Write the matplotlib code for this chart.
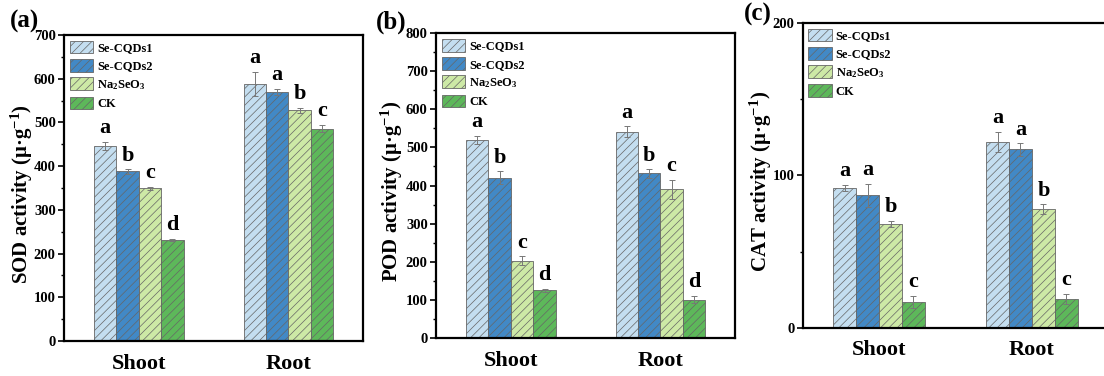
import numpy as np
import matplotlib
matplotlib.use('Agg')
import matplotlib.pyplot as plt
from matplotlib.ticker import MultipleLocator

plt.rcParams['font.family'] = 'Liberation Serif'
plt.rcParams['font.weight'] = 'bold'
plt.rcParams['mathtext.fontset'] = 'custom'
plt.rcParams['mathtext.rm'] = 'Liberation Serif:bold'
plt.rcParams['mathtext.it'] = 'Liberation Serif:bold'
plt.rcParams['mathtext.bf'] = 'Liberation Serif:bold'
plt.rcParams['hatch.color'] = '#555555'
plt.rcParams['hatch.linewidth'] = 0.5

groups = ['Shoot', 'Root']
treatments = ['Se-CQDs1', 'Se-CQDs2', 'Na$_2$SeO$_3$', 'CK']
colors = ['#c4def0', '#4289c6', '#cde9a6', '#5db85a']

sod = [[446, 388, 349, 231], [588, 570, 528, 486]]
sod_err = [[10, 5, 4, 2], [27, 7, 6, 9]]
sod_letters = [['a', 'b', 'c', 'd'], ['a', 'a', 'b', 'c']]

pod = [[519, 420, 203, 125], [541, 432, 390, 101]]
pod_err = [[11, 17, 11, 4], [14, 11, 25, 9]]
pod_letters = [['a', 'b', 'c', 'd'], ['a', 'b', 'c', 'd']]

cat = [[92, 87, 68, 17], [122, 117, 78, 19]]
cat_err = [[2, 7.5, 2, 4], [6.5, 4, 3, 3.5]]
cat_letters = [['a', 'a', 'b', 'c'], ['a', 'a', 'b', 'c']]

panels = [
    # tag, values, errors, letters, ylabel, ymax, rect, tag pos, ylabel x
    ('(a)', sod, sod_err, sod_letters, 'SOD', 700, [0.058, 0.093, 0.271, 0.814], (0.022, 0.912), -0.097),
    ('(b)', pod, pod_err, pod_letters, 'POD', 800, [0.395, 0.101, 0.271, 0.811], (0.354, 0.910), -0.104),
    ('(c)', cat, cat_err, cat_letters, 'CAT', 200, [0.727, 0.128, 0.277, 0.811], (0.686, 0.932), -0.092),
]

fig = plt.figure(figsize=(11.04, 3.76), dpi=100)
w = 0.15
x = np.arange(len(groups))

for tag, vals, errs, lets, name, ymax, rect, tpos, lx in panels:
    ax = fig.add_axes(rect)
    vals = np.array(vals)
    errs = np.array(errs)
    for i, t in enumerate(treatments):
        pos = x + (i - 1.5) * w
        ax.bar(pos, vals[:, i], w, color=colors[i], edgecolor='#666666', linewidth=0.6,
               hatch='////', label=t, yerr=errs[:, i],
               error_kw=dict(ecolor='#777777', elinewidth=0.7, capsize=2, capthick=0.7))
        for g in range(len(groups)):
            ax.text(pos[g], vals[g, i] + errs[g, i] + ymax * 0.012, lets[g][i],
                    ha='center', va='bottom', fontsize=16, fontweight='bold')
    ax.set_xlim(-0.5, 1.5)
    ax.set_ylim(0, ymax)
    ax.set_xticks(x)
    ax.set_xticklabels(groups, fontsize=16, fontweight='bold')
    ax.yaxis.set_major_locator(MultipleLocator(100))
    ax.yaxis.set_minor_locator(MultipleLocator(50))
    ax.tick_params(axis='y', labelsize=10.5, width=1.2, length=4, pad=2)
    ax.tick_params(axis='y', which='minor', width=1, length=2.5)
    ax.tick_params(axis='x', length=0, pad=9)
    for s in ax.spines.values():
        s.set_linewidth(1.6)
    ax.set_ylabel(name + ' activity (μ·g$^{-1}$)', fontsize=15, fontweight='bold')
    ax.yaxis.set_label_coords(lx, 0.48)
    ax.legend(loc='upper left', frameon=False, handlelength=1.9, handleheight=1.2,
              labelspacing=0.38, handletextpad=0.3, borderaxespad=0.15, borderpad=0.3,
              prop={'weight': 'bold', 'size': 9})
    fig.text(tpos[0], tpos[1], tag, ha='center', va='bottom', fontsize=18, fontweight='bold')

fig.savefig('out.png', dpi=100)
